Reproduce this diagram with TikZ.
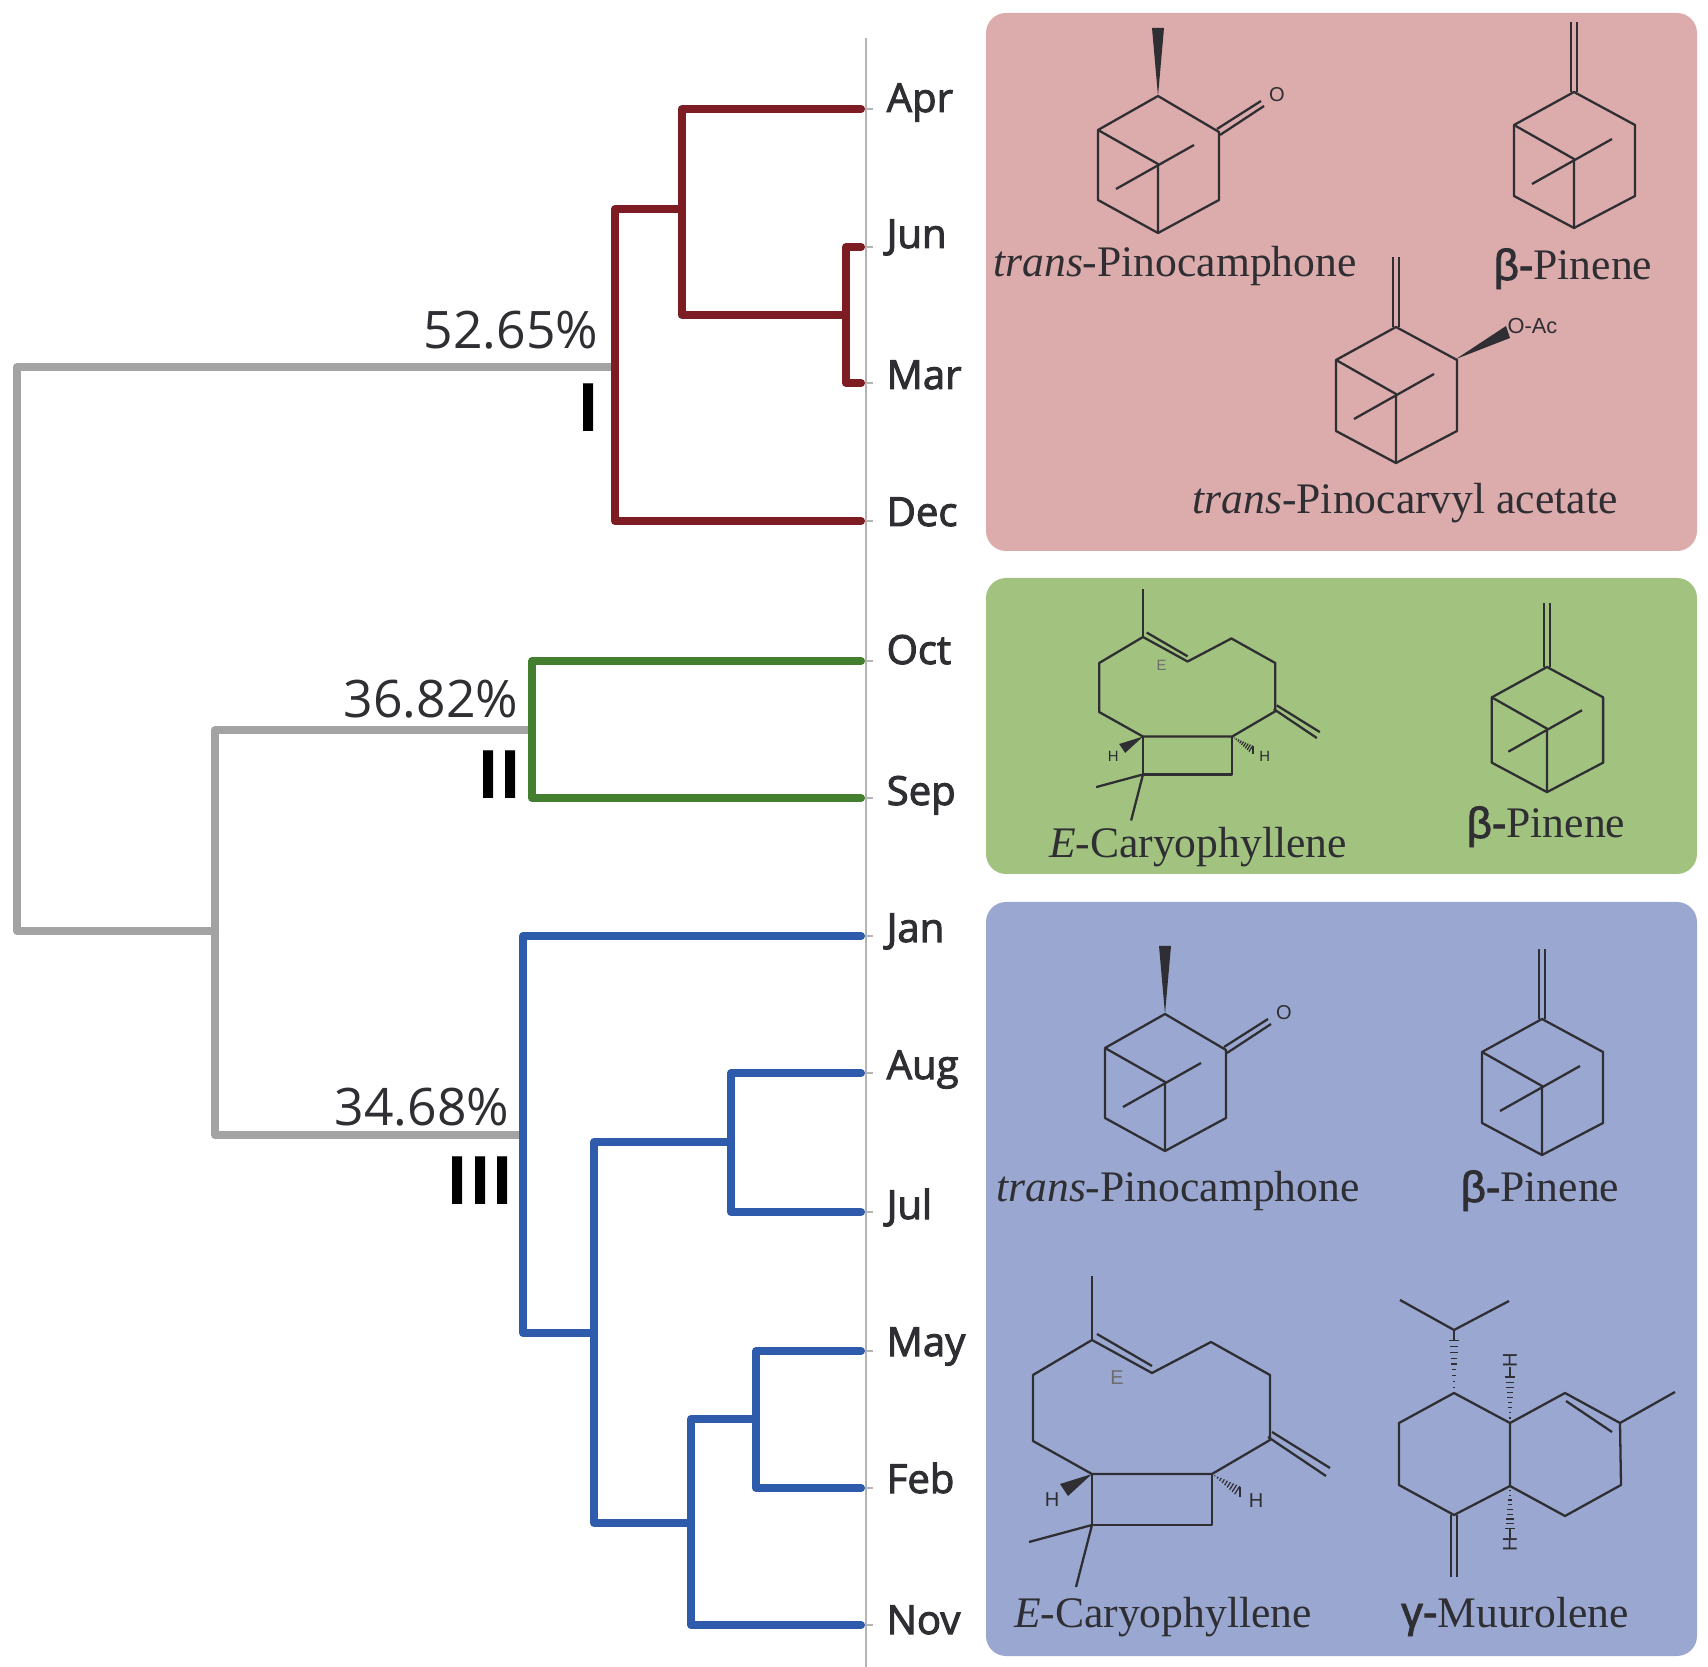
\documentclass[tikz,border=0pt]{standalone}
\usepackage{fontspec}
\setmainfont{Liberation Serif}
\newfontfamily\sansatom{Liberation Sans}
\newfontfamily\sansgreek[FakeBold=2]{Liberation Sans}
\newfontfamily\dendrofont{Open Sans}
\newfontfamily\monthfont[FakeBold=2.5]{Open Sans}
\usetikzlibrary{calc}
\definecolor{ink}{HTML}{2E2E33}
\definecolor{stemgrey}{HTML}{A3A3A3}
\definecolor{axisgrey}{HTML}{B4B4B4}
\definecolor{branchred}{HTML}{7D1C22}
\definecolor{branchgreen}{HTML}{437F2F}
\definecolor{branchblue}{HTML}{2F5BAC}
\definecolor{panelred}{HTML}{DCABAC}
\definecolor{panelgreen}{HTML}{A2C380}
\definecolor{panelblue}{HTML}{9AA8D1}
% hashed bond, narrow end first
\newcommand{\hashbond}[3]{\foreach \t in {.1,.2,.3,.4,.5,.6,.7,.8,.9,1}
  \draw[bondline, line width=.35pt] ($(#1)!\t!(#2)!\t*#3pt!90:(#2)$) -- ($(#1)!\t!(#2)!-\t*#3pt!90:(#2)$);}
\newcommand{\greeksans}[1]{{\sansgreek #1}}
\tikzset{
  branch/.style={line width=2.3pt, line join=round, line cap=round},
  bondline/.style={ink, line width=.65pt, line join=round},
  panelbox/.style={rounded corners=5.7pt},
  monthlabel/.style={font=\monthfont\fontsize{11.4}{14}\selectfont, text=ink, anchor=base west, inner sep=0},
  pctlabel/.style={font=\dendrofont\fontsize{14.7}{18}\selectfont, text=ink, anchor=base east, inner sep=0},
  romanlabel/.style={font=\dendrofont\bfseries\fontsize{19}{22}\selectfont, text=black, anchor=base east, inner sep=0},
  compound/.style={font=\fontsize{12.4}{15}\selectfont, text=ink, anchor=base, inner sep=0},
  atomlabel/.style={font=\sansatom\fontsize{5.7}{7}\selectfont, text=ink, inner sep=0, transform shape},
  pinene/.pic={
    \draw[bondline] (0,0) -- (-60,33) -- (-60,104) -- (0,136) -- (61,104) -- (61,33) -- cycle;
    \draw[bondline] (-60,33) -- (0,67) -- (0,136);
    \draw[bondline] (-42,92) -- (38,47);
    \draw[bondline] (-3,0) -- (-3,-70);
    \draw[bondline] (3,0) -- (3,-70);
  },
  pinocamphone/.pic={
    \draw[bondline] (0,0) -- (-60,34) -- (-60,104) -- (0,137) -- (61,104) -- (61,36) -- cycle;
    \draw[bondline] (-60,34) -- (0,68) -- (0,137);
    \draw[bondline] (-42,93) -- (36,49);
    \fill[ink] (0,0) -- (-6,-68) -- (6,-68) -- cycle;
    \draw[bondline] (59,33) -- (103,5);
    \draw[bondline] (62,39) -- (106,10);
    \node[atomlabel] (oxy) at (119,-1) {O};
  },
  caryophyllene/.pic={
    \draw[bondline] (0,0) -- (60,33) -- (119,2) -- (178,35) -- (178,100) -- (120,134) -- (0,134) -- (-59,101) -- (-59,35) -- cycle;
    \draw[bondline] (0,-64) -- (0,0);
    \draw[bondline] (5,-6) -- (60,26);
    \draw[bondline] (176,97) -- (234,136);
    \draw[bondline] (180,92) -- (238,128);
    \draw[bondline] (0,134) -- (0,185) -- (120,185) -- (120,134);
    \draw[bondline] (-63,202) -- (0,185) -- (-16,247);
    \fill[ink] (0,134) -- (-32,144) -- (-24,156) -- cycle;
    \hashbond{120,134}{148,152}{1.5}
    \node[atomlabel] (hleft) at (-40,160) {H};
    \node[atomlabel] (hright) at (164,161) {H};
    \node[atomlabel, text=ink!70] (estereo) at (25,38) {E};
  }
}
\begin{document}
\begin{tikzpicture}[x=0.01cm, y=-0.01cm]
    \useasboundingbox (0,0) rectangle (1708,1667);
    % panels behind the structures
    \fill[panelbox, panelred] (986,13) rectangle (1697,551);
    \fill[panelbox, panelgreen] (986,578) rectangle (1697,874);
    \fill[panelbox, panelblue] (986,902) rectangle (1697,1656);
    % axis and leaf ends
    \draw[axisgrey, line width=.5pt] (866,38) -- (866,1667);
    \coordinate (tApr) at (861,109);
    \coordinate (tJun) at (861,247);
    \coordinate (tMar) at (861,383);
    \coordinate (tDec) at (861,521);
    \coordinate (tOct) at (861,661);
    \coordinate (tSep) at (861,798);
    \coordinate (tJan) at (861,936);
    \coordinate (tAug) at (861,1073);
    \coordinate (tJul) at (861,1212);
    \coordinate (tMay) at (861,1351);
    \coordinate (tFeb) at (861,1488);
    \coordinate (tNov) at (861,1625);
    \draw[axisgrey, line width=.5pt] (tApr) -- ++(12,0) (tJun) -- ++(12,0) (tMar) -- ++(12,0)
        (tDec) -- ++(12,0) (tOct) -- ++(12,0) (tSep) -- ++(12,0) (tJan) -- ++(12,0) (tAug) -- ++(12,0)
        (tJul) -- ++(12,0) (tMay) -- ++(12,0) (tFeb) -- ++(12,0) (tNov) -- ++(12,0);
    % merge points
    \coordinate (mJunMar) at (846,315);
    \coordinate (mApr) at (682,209);
    \coordinate (mI) at (615,367);
    \coordinate (mII) at (532,730);
    \coordinate (mIII) at (523,1135);
    \coordinate (mLow) at (594,1333);
    \coordinate (mAugJul) at (731,1142);
    \coordinate (mFebNov) at (691,1523);
    \coordinate (mMayFeb) at (756,1419);
    \coordinate (mTop) at (215,931);
    \coordinate (mRoot) at (17,931);
    % grey trunk
    \draw[branch, stemgrey] (mI) -| (mRoot) -- (mTop);
    \draw[branch, stemgrey] (mII) -| (mTop) |- (mIII);
    % cluster I
    \draw[branch, branchred] (tJun) -| (mJunMar) |- (tMar);
    \draw[branch, branchred] (tApr) -| (mApr) |- (mJunMar);
    \draw[branch, branchred] (mApr) -| (mI) |- (tDec);
    % cluster II
    \draw[branch, branchgreen] (tOct) -| (mII) |- (tSep);
    % cluster III
    \draw[branch, branchblue] (tMay) -| (mMayFeb) |- (tFeb);
    \draw[branch, branchblue] (mMayFeb) -| (mFebNov) |- (tNov);
    \draw[branch, branchblue] (tAug) -| (mAugJul) |- (tJul);
    \draw[branch, branchblue] (mAugJul) -| (mLow) |- (mFebNov);
    \draw[branch, branchblue] (tJan) -| (mIII) |- (mLow);
    % months
    \node[monthlabel] (labApr) at (886,112) {Apr};
    \node[monthlabel] (labJun) at (886,248) {Jun};
    \node[monthlabel] (labMar) at (886,389) {Mar};
    \node[monthlabel] (labDec) at (886,526) {Dec};
    \node[monthlabel] (labOct) at (886,664) {Oct};
    \node[monthlabel] (labSep) at (886,805) {Sep};
    \node[monthlabel] (labJan) at (886,942) {Jan};
    \node[monthlabel] (labAug) at (886,1079) {Aug};
    \node[monthlabel] (labJul) at (886,1219) {Jul};
    \node[monthlabel] (labMay) at (886,1356) {May};
    \node[monthlabel] (labFeb) at (886,1493) {Feb};
    \node[monthlabel] (labNov) at (886,1634) {Nov};
    % percentages and cluster numbers
    \node[pctlabel] (pctI) at (599,349) {52.65\%};
    \node[pctlabel] (pctII) at (519,718) {36.82\%};
    \node[pctlabel] (pctIII) at (510,1125) {34.68\%};
    \node[romanlabel] (romI) at (600,432) {I};
    \node[romanlabel] (romII) at (522,799) {II};
    \node[romanlabel] (romIII) at (514,1204) {III};
    % red panel
    \pic (redA) at (1158,96) {pinocamphone};
    \pic (redB) at (1574,92) {pinene};
    \pic (redC) at (1396,327) {pinene};
    \fill[ink] (1456,359) -- (1506,326) -- (1510,338) -- cycle;
    \node[atomlabel, font=\sansatom\fontsize{6.2}{7}\selectfont, anchor=west] (oac) at (1507,326) {O-Ac};
    \node[compound] (nameA) at (1175,277) {\textit{trans}-Pinocamphone};
    \node[compound] (nameB) at (1573,280) {\greeksans{β-}Pinene};
    \node[compound] (nameC) at (1405,514) {\textit{trans}-Pinocarvyl acetate};
    % green panel
    \pic[scale=.743] (grnA) at (1143,637) {caryophyllene};
    \pic[scale=.92] (grnB) at (1547,667) {pinene};
    \node[compound] (nameD) at (1198,858) {\textit{E}-Caryophyllene};
    \node[compound] (nameE) at (1546,838) {\greeksans{β-}Pinene};
    % blue panel
    \pic (bluA) at (1165,1014) {pinocamphone};
    \pic (bluB) at (1542,1019) {pinene};
    \pic (bluC) at (1092,1340) {caryophyllene};
    \node[compound] (nameF) at (1178,1202) {\textit{trans}-Pinocamphone};
    \node[compound] (nameG) at (1540,1202) {\greeksans{β-}Pinene};
    \node[compound] (nameH) at (1163,1627) {\textit{E}-Caryophyllene};
    \node[compound] (nameI) at (1515,1627) {\greeksans{γ-}Muurolene};
    % muurolene
    \draw[bondline] (1454,1393) -- (1399,1423) -- (1399,1485) -- (1454,1515) -- (1510,1486) -- (1510,1423) -- cycle;
    \draw[bondline] (1510,1423) -- (1565,1393) -- (1620,1423) -- (1621,1485) -- (1565,1516) -- (1510,1486);
    \draw[bondline] (1566,1401) -- (1612,1432);
    \draw[bondline] (1400,1300) -- (1454,1330) -- (1509,1301);
    \draw[bondline] (1620,1423) -- (1675,1392);
    \draw[bondline] (1451,1515) -- (1451,1577);
    \draw[bondline] (1457,1515) -- (1457,1577);
    \hashbond{1454,1393}{1454,1335}{1.5}
    \hashbond{1510,1423}{1510,1372}{1.5}
    \hashbond{1510,1486}{1510,1533}{1.5}
    \node[atomlabel, rotate=90] (hup) at (1510,1360) {H};
    \node[atomlabel, rotate=90] (hdown) at (1510,1544) {H};
  \end{tikzpicture}
\end{document}
